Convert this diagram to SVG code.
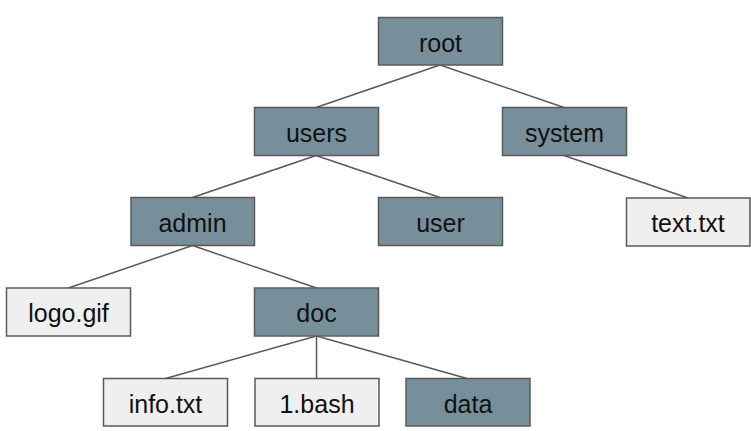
<svg xmlns="http://www.w3.org/2000/svg" width="751" height="431" viewBox="0 0 751 431">
<style>
.n rect{stroke:#595959;stroke-width:1.5}
.d rect{fill:#778f9b}
.l rect{fill:#efefef}
.n text{font-family:"Liberation Sans",Arial,sans-serif;font-size:25px;fill:#111;text-anchor:middle}
#connectors line{stroke:#595959;stroke-width:1.5}
</style>
<rect width="751" height="431" fill="#fff"/>
<g id="connectors">
<line x1="440" y1="65" x2="316" y2="107.5"/>
<line x1="440" y1="65" x2="564" y2="107.5"/>
<line x1="316" y1="155.5" x2="192.5" y2="197.5"/>
<line x1="316" y1="155.5" x2="440" y2="197.5"/>
<line x1="564" y1="155.5" x2="688" y2="198"/>
<line x1="192.5" y1="245.5" x2="68.5" y2="288"/>
<line x1="192.5" y1="245.5" x2="316.5" y2="288"/>
<line x1="316.5" y1="336" x2="165.5" y2="378.5"/>
<line x1="316.5" y1="336" x2="316.5" y2="378.5"/>
<line x1="316.5" y1="336" x2="467" y2="378.5"/>
</g>
<g id="root" class="n d"><rect x="378.5" y="17.5" width="124" height="47.5"/><text x="440.5" y="51.7">root</text></g>
<g id="users" class="n d"><rect x="254.5" y="107.5" width="124" height="48"/><text x="316.5" y="141.7">users</text></g>
<g id="system" class="n d"><rect x="502.5" y="107.5" width="124" height="48"/><text x="564.5" y="141.7">system</text></g>
<g id="admin" class="n d"><rect x="131" y="197.5" width="123.5" height="48"/><text x="192.5" y="231.7">admin</text></g>
<g id="user" class="n d"><rect x="378.5" y="197.5" width="124" height="48"/><text x="440.5" y="231.7">user</text></g>
<g id="text_txt" class="n l"><rect x="626.5" y="198" width="123.5" height="48"/><text x="688" y="232.2">text.txt</text></g>
<g id="logo_gif" class="n l"><rect x="6.5" y="288" width="124" height="48"/><text x="68.5" y="322.2">logo.gif</text></g>
<g id="doc" class="n d"><rect x="254.5" y="288" width="124" height="48"/><text x="316.5" y="322.2">doc</text></g>
<g id="info_txt" class="n l"><rect x="103.5" y="378.5" width="124" height="47.5"/><text x="165.5" y="412.5">info.txt</text></g>
<g id="bash" class="n l"><rect x="255" y="378.5" width="124" height="47.5"/><text x="317" y="412.5">1.bash</text></g>
<g id="data" class="n d"><rect x="406" y="378.5" width="124" height="47.5"/><text x="468" y="412.5">data</text></g>
</svg>
